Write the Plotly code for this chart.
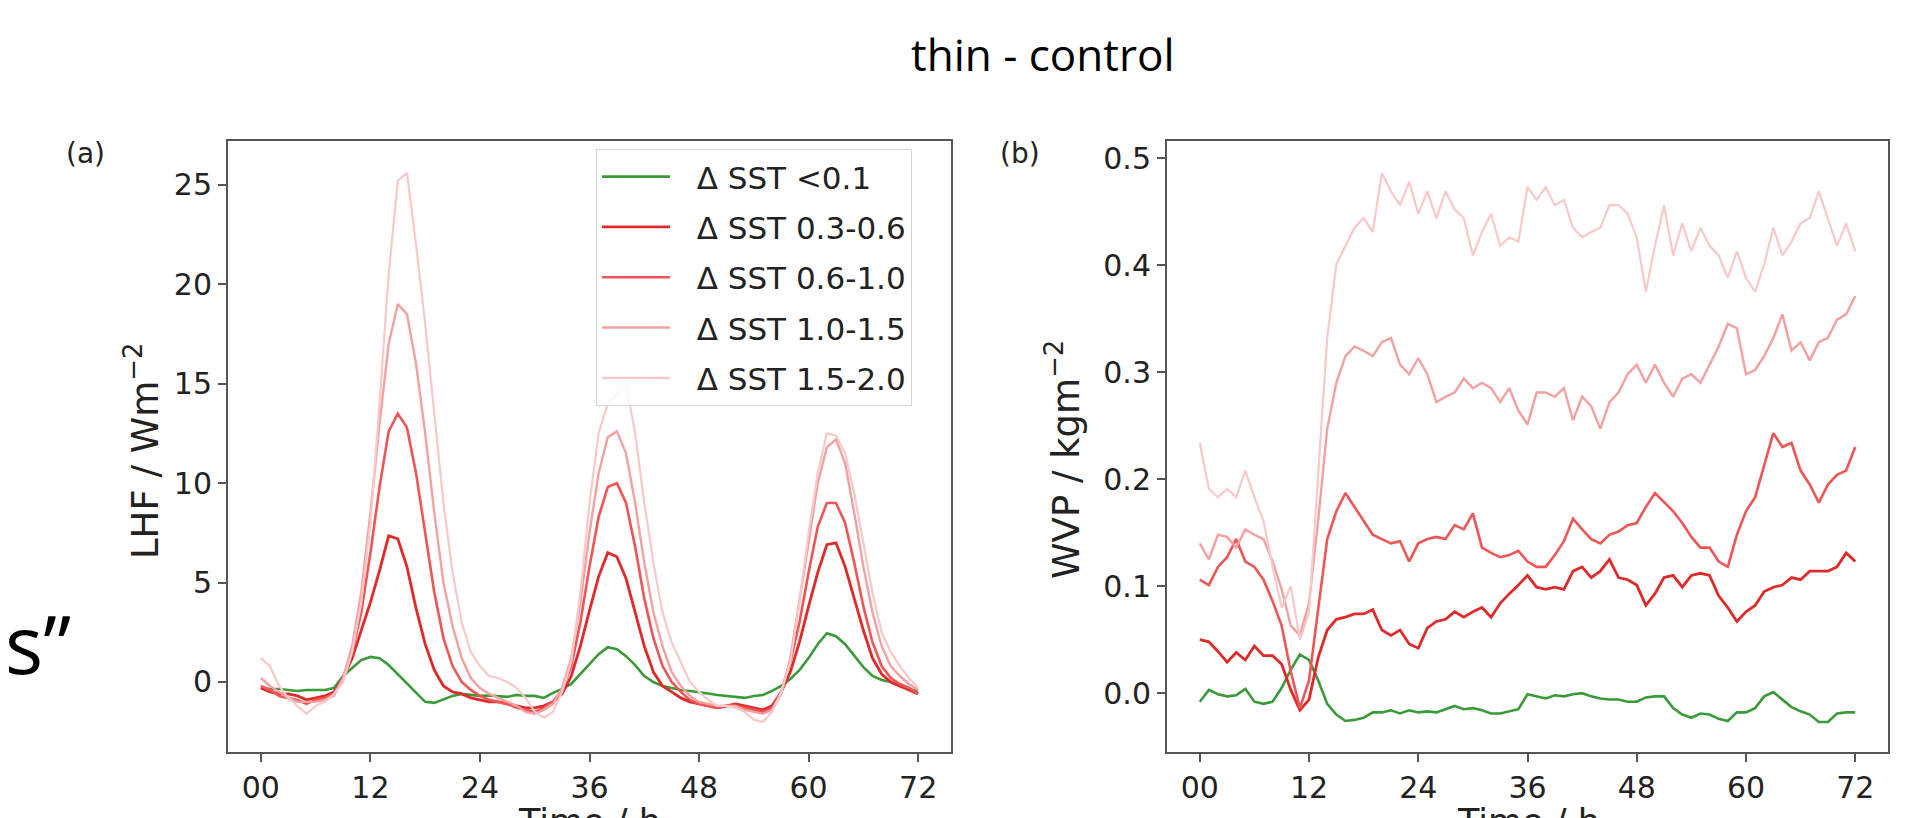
import plotly.graph_objects as go

# ---------------- data ----------------
hours = list(range(0, 73))
x_tickvals = [0, 12, 24, 36, 48, 60, 72]
x_ticktext = ["00", "12", "24", "36", "48", "60", "72"]
series_names = ["\u0394 SST <0.1", "\u0394 SST 0.3-0.6", "\u0394 SST 0.6-1.0",
                "\u0394 SST 1.0-1.5", "\u0394 SST 1.5-2.0"]

# (a) LHF / W m-2
lhf_lt01 = [-0.30, -0.35, -0.35, -0.40, -0.45, -0.40, -0.40, -0.40, -0.30, 0.30, 0.70, 1.10,
            1.26, 1.20, 0.85, 0.40, -0.07, -0.50, -1.00, -1.05, -0.87, -0.70, -0.60, -0.64,
            -0.70, -0.68, -0.72, -0.75, -0.65, -0.70, -0.70, -0.80, -0.55, -0.35, -0.10, 0.40,
            0.95, 1.40, 1.75, 1.65, 1.30, 0.85, 0.30, 0.00, -0.20, -0.30, -0.40, -0.45,
            -0.50, -0.58, -0.65, -0.70, -0.75, -0.80, -0.70, -0.65, -0.45, -0.20, 0.15, 0.60,
            1.20, 1.90, 2.45, 2.30, 1.90, 1.30, 0.75, 0.30, 0.10, 0.00, -0.20, -0.35,
            -0.45]
lhf_03_06 = [-0.3, -0.5, -0.6, -0.6, -0.7, -0.9, -0.8, -0.7, -0.5, 0.2, 1.2, 2.6,
             4.0, 5.6, 7.35, 7.2, 5.8, 3.7, 1.9, 0.6, -0.2, -0.5, -0.6, -0.8,
             -0.9, -1.0, -1.0, -1.1, -1.2, -1.3, -1.3, -1.2, -1.0, -0.6, 0.3, 1.8,
             3.6, 5.3, 6.5, 6.3, 5.2, 3.5, 1.8, 0.5, -0.2, -0.5, -0.8, -1.0,
             -1.1, -1.2, -1.3, -1.2, -1.1, -1.2, -1.3, -1.4, -1.2, -0.5, 0.5, 2.0,
             3.8, 5.5, 6.9, 7.0, 5.8, 4.2, 2.6, 1.2, 0.4, 0.0, -0.2, -0.4,
             -0.6]
lhf_06_10 = [-0.2, -0.4, -0.7, -0.8, -0.9, -1.1, -0.9, -0.8, -0.6, 0.2, 1.5, 3.5,
             6.5, 9.8, 12.6, 13.5, 12.8, 10.5, 7.5, 4.5, 2.2, 0.8, 0.0, -0.4,
             -0.7, -0.9, -1.0, -1.1, -1.3, -1.4, -1.5, -1.3, -1.0, -0.4, 0.8, 3.0,
             5.8, 8.3, 9.8, 10.0, 9.0, 6.8, 4.2, 2.2, 0.8, 0.0, -0.5, -0.9,
             -1.1, -1.2, -1.3, -1.2, -1.2, -1.3, -1.4, -1.5, -1.3, -0.5, 1.0, 3.0,
             5.5, 7.8, 9.0, 9.0, 8.0, 6.0, 3.8, 2.0, 0.8, 0.2, -0.1, -0.3,
             -0.6]
lhf_10_15 = [0.2, -0.2, -0.5, -0.8, -1.0, -1.0, -1.0, -0.9, -0.7, 0.2, 1.8, 4.5,
             8.5, 13.0, 17.0, 19.0, 18.5, 16.0, 12.5, 8.5, 5.0, 2.8, 1.2, 0.2,
             -0.3, -0.6, -0.8, -1.0, -1.2, -1.5, -1.6, -1.4, -1.1, -0.3, 1.2, 4.0,
             7.5, 10.5, 12.3, 12.6, 11.5, 9.0, 6.0, 3.5, 1.8, 0.5, -0.2, -0.7,
             -1.0, -1.1, -1.2, -1.2, -1.2, -1.4, -1.5, -1.6, -1.4, -0.6, 1.2, 4.0,
             7.0, 10.0, 11.8, 12.2, 11.0, 8.5, 5.8, 3.5, 1.8, 0.8, 0.3, -0.1,
             -0.4]
lhf_15_20 = [1.2, 0.8, -0.2, -0.8, -1.2, -1.6, -1.2, -1.0, -0.6, 0.0, 1.5, 4.0,
             8.0, 14.0, 20.5, 25.2, 25.6, 22.0, 18.0, 13.5, 9.0, 5.5, 3.0, 1.5,
             0.8, 0.3, 0.2, 0.0, -0.3, -0.8, -1.5, -1.8, -1.5, -0.5, 1.0, 4.5,
             9.0, 12.5, 14.0, 14.5, 15.0, 12.5, 9.0, 6.0, 3.5, 2.0, 1.0, 0.0,
             -0.5, -0.9, -1.2, -1.2, -1.3, -1.5, -1.9, -2.0, -1.5, -0.5, 1.0, 4.0,
             7.5, 10.5, 12.5, 12.4, 11.5, 9.5, 7.0, 4.5, 2.5, 1.5, 0.8, 0.2,
             -0.3]

# (b) WVP / kg m-2
wvp_lt01 = [-0.008, 0.003, -0.001, -0.003, -0.002, 0.004, -0.008, -0.010, -0.008, 0.005, 0.022, 0.036,
            0.031, 0.012, -0.010, -0.020, -0.026, -0.025, -0.023, -0.018, -0.018, -0.016, -0.019, -0.016,
            -0.018, -0.017, -0.018, -0.015, -0.012, -0.015, -0.014, -0.016, -0.019, -0.019, -0.017, -0.015,
            -0.001, -0.003, -0.005, -0.002, -0.003, -0.001, 0.000, -0.003, -0.005, -0.006, -0.006, -0.008,
            -0.008, -0.004, -0.003, -0.003, -0.014, -0.020, -0.023, -0.019, -0.020, -0.024, -0.026, -0.018,
            -0.018, -0.014, -0.003, 0.001, -0.006, -0.013, -0.017, -0.020, -0.027, -0.027, -0.019, -0.018,
            -0.018]
wvp_03_06 = [0.050, 0.048, 0.039, 0.029, 0.038, 0.031, 0.044, 0.035, 0.035, 0.027, 0.003, -0.016,
             -0.006, 0.033, 0.059, 0.069, 0.071, 0.074, 0.074, 0.078, 0.059, 0.054, 0.059, 0.046,
             0.042, 0.061, 0.067, 0.069, 0.076, 0.071, 0.076, 0.080, 0.071, 0.084, 0.093, 0.101,
             0.110, 0.099, 0.097, 0.099, 0.097, 0.114, 0.118, 0.108, 0.114, 0.125, 0.108, 0.106,
             0.101, 0.082, 0.093, 0.108, 0.110, 0.099, 0.110, 0.112, 0.110, 0.091, 0.080, 0.067,
             0.076, 0.082, 0.095, 0.099, 0.101, 0.108, 0.106, 0.114, 0.114, 0.114, 0.118, 0.131,
             0.123]
wvp_06_10 = [0.106, 0.101, 0.118, 0.127, 0.144, 0.123, 0.118, 0.106, 0.086, 0.063, 0.020, -0.014,
             0.012, 0.076, 0.144, 0.170, 0.187, 0.174, 0.161, 0.148, 0.144, 0.140, 0.142, 0.123,
             0.140, 0.144, 0.146, 0.144, 0.157, 0.153, 0.168, 0.136, 0.131, 0.127, 0.129, 0.133,
             0.123, 0.118, 0.118, 0.129, 0.142, 0.163, 0.153, 0.144, 0.140, 0.148, 0.151, 0.157,
             0.159, 0.174, 0.187, 0.178, 0.170, 0.159, 0.146, 0.136, 0.136, 0.123, 0.118, 0.148,
             0.170, 0.183, 0.213, 0.243, 0.230, 0.234, 0.208, 0.195, 0.178, 0.195, 0.204, 0.208,
             0.230]
wvp_10_15 = [0.140, 0.125, 0.148, 0.146, 0.136, 0.153, 0.148, 0.144, 0.123, 0.097, 0.063, 0.054,
             0.084, 0.161, 0.247, 0.290, 0.315, 0.324, 0.320, 0.315, 0.328, 0.332, 0.307, 0.298,
             0.313, 0.298, 0.272, 0.277, 0.281, 0.294, 0.285, 0.290, 0.285, 0.272, 0.285, 0.264,
             0.251, 0.281, 0.281, 0.277, 0.285, 0.255, 0.277, 0.268, 0.247, 0.272, 0.281, 0.298,
             0.307, 0.290, 0.307, 0.290, 0.277, 0.294, 0.298, 0.290, 0.307, 0.324, 0.345, 0.341,
             0.298, 0.302, 0.315, 0.332, 0.354, 0.320, 0.328, 0.311, 0.328, 0.332, 0.349, 0.354,
             0.371]
wvp_15_20 = [0.234, 0.191, 0.183, 0.191, 0.183, 0.208, 0.183, 0.161, 0.118, 0.080, 0.100, 0.050,
             0.075, 0.204, 0.332, 0.401, 0.418, 0.435, 0.444, 0.431, 0.486, 0.469, 0.456, 0.478,
             0.448, 0.469, 0.444, 0.469, 0.452, 0.444, 0.409, 0.431, 0.448, 0.418, 0.426, 0.422,
             0.473, 0.461, 0.473, 0.456, 0.461, 0.435, 0.426, 0.431, 0.435, 0.456, 0.456, 0.448,
             0.426, 0.375, 0.418, 0.456, 0.409, 0.439, 0.413, 0.435, 0.418, 0.409, 0.388, 0.413,
             0.388, 0.375, 0.401, 0.435, 0.409, 0.422, 0.439, 0.444, 0.469, 0.444, 0.418, 0.439,
             0.413]

# ---------------- styling ----------------
colors = ["#3a9a3a", "#e02a2a", "#f05555", "#f3a0a0", "#f9c8c8"]
widths = [2.6, 2.8, 2.6, 2.4, 2.2]
W, H = 1932, 818
legend_gap = "\u2002\u2009"  # visual gap between legend line and label

def px_x(p):
    return p / W

def px_y(p):
    return 1 - p / H

lhf_sets = [lhf_lt01, lhf_03_06, lhf_06_10, lhf_10_15, lhf_15_20]
wvp_sets = [wvp_lt01, wvp_03_06, wvp_06_10, wvp_10_15, wvp_15_20]

fig = go.Figure()
for i, name in enumerate(series_names):
    fig.add_trace(go.Scatter(x=hours, y=lhf_sets[i], mode="lines", name=legend_gap + name,
                             legendgroup=name, showlegend=True,
                             line=dict(color=colors[i], width=widths[i]),
                             xaxis="x", yaxis="y"))
for i, name in enumerate(series_names):
    fig.add_trace(go.Scatter(x=hours, y=wvp_sets[i], mode="lines", name=name,
                             legendgroup=name, showlegend=False,
                             line=dict(color=colors[i], width=widths[i]),
                             xaxis="x2", yaxis="y2"))

tick_font = dict(family="DejaVu Sans", size=30, color="#222")
axis_common = dict(showline=True, mirror=True, linecolor="#555", linewidth=2,
                   ticks="outside", ticklen=8, tickwidth=1.5, tickcolor="#555",
                   showgrid=False, zeroline=False, tickfont=tick_font)

ydom = [px_y(744), px_y(133)]
fig.update_layout(
    width=W, height=H,
    margin=dict(l=0, r=0, t=0, b=0),
    paper_bgcolor="white", plot_bgcolor="white",
    xaxis=dict(domain=[px_x(220), px_x(943)], range=[-3.6, 75.6],
               tickvals=x_tickvals, ticktext=x_ticktext, anchor="y", **axis_common),
    yaxis=dict(domain=ydom, range=[-3.52, 27.2], tickvals=[0, 5, 10, 15, 20, 25],
               anchor="x", **axis_common),
    xaxis2=dict(domain=[px_x(1159), px_x(1880)], range=[-3.6, 75.6],
                tickvals=x_tickvals, ticktext=x_ticktext, anchor="y2", **axis_common),
    yaxis2=dict(domain=ydom, range=[-0.055, 0.516], tickvals=[0, 0.1, 0.2, 0.3, 0.4, 0.5],
                tickformat=".1f", anchor="x2", **axis_common),
    legend=dict(x=px_x(588), y=px_y(141), xanchor="left", yanchor="top",
                bgcolor="rgba(255,255,255,0.85)", bordercolor="#d6d6d6", borderwidth=1,
                font=dict(family="DejaVu Sans", size=31, color="#222"),
                tracegroupgap=7, itemwidth=68),
    showlegend=True,
)

ann_font = dict(family="DejaVu Sans", size=35, color="#222")
yt_font = dict(family="DejaVu Sans", size=37, color="#222")
annotations = [
    dict(text="thin - control", x=px_x(1035), y=px_y(46), xref="paper", yref="paper",
         showarrow=False, xanchor="center", yanchor="middle",
         font=dict(family="Open Sans", size=44, color="#000")),
    dict(text="s\u201d", x=px_x(-5), y=px_y(634), xref="paper", yref="paper",
         showarrow=False, xanchor="left", yanchor="middle",
         font=dict(family="Open Sans", size=80, color="#000")),
    dict(text="(a)", x=px_x(77), y=px_y(145), xref="paper", yref="paper",
         showarrow=False, xanchor="center", yanchor="middle",
         font=dict(family="DejaVu Sans", size=28, color="#222")),
    dict(text="(b)", x=px_x(1012), y=px_y(145), xref="paper", yref="paper",
         showarrow=False, xanchor="center", yanchor="middle",
         font=dict(family="DejaVu Sans", size=28, color="#222")),
    dict(text="Time / h", x=px_x(581), y=px_y(814), xref="paper", yref="paper",
         showarrow=False, xanchor="center", yanchor="middle", font=ann_font),
    dict(text="Time / h", x=px_x(1520), y=px_y(814), xref="paper", yref="paper",
         showarrow=False, xanchor="center", yanchor="middle", font=ann_font),
    dict(text="LHF / Wm<sup>\u22122</sup>", x=px_x(134), y=px_y(443), xref="paper", yref="paper",
         showarrow=False, xanchor="center", yanchor="middle", textangle=-90, font=yt_font),
    dict(text="WVP / kgm<sup>\u22122</sup>", x=px_x(1055), y=px_y(452), xref="paper", yref="paper",
         showarrow=False, xanchor="center", yanchor="middle", textangle=-90, font=yt_font),
]
fig.update_layout(annotations=annotations)

fig.write_html("out.html")
